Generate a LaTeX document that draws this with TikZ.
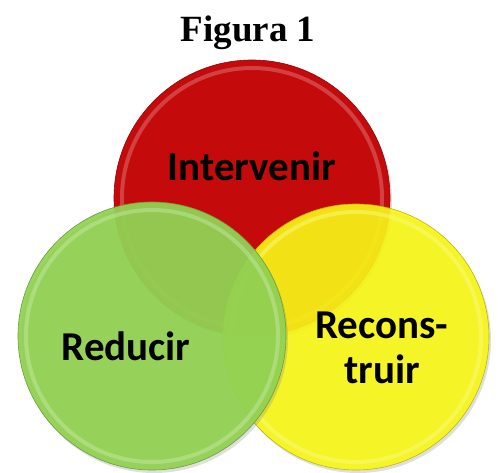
\documentclass[tikz,border=0pt]{standalone}
\usepackage{fontspec}
\setmainfont{Liberation Serif}
\newfontfamily\labelfont{Carlito}
\usetikzlibrary{shadows}
\definecolor{rojo}{RGB}{196,10,10}
\definecolor{verde}{RGB}{146,210,82}
\definecolor{amarillo}{RGB}{248,246,20}
\tikzset{disco/.style={circle, inner sep=0pt, draw=#1!75!black, line width=0.6pt,
  fill=#1, fill opacity=0.93,
  drop shadow={opacity=0.25, shadow xshift=2pt, shadow yshift=-3pt}}}
\tikzset{borde/.style={draw=#1!55!white, line width=4pt, draw opacity=0.5}}
\tikzset{etiqueta/.style={font=\labelfont\bfseries\fontsize{41}{45}\selectfont, anchor=base}}

\begin{document}
\begin{tikzpicture}[x=1pt, y=-1pt]
      \useasboundingbox (0, 0) rectangle (498, 472);

      \node [anchor=base, font=\bfseries\fontsize{37}{40}\selectfont] (titulo) at (248, 41) {Figura 1};

      \node [disco=rojo, fill opacity=1, minimum size=276pt] (rojo) at (252, 198) {};
      \draw [borde=rojo] (rojo.center) circle (130pt);

      \node [disco=amarillo, fill opacity=0.9, minimum size=266pt] (amarillo) at (356, 337) {};
      \draw [borde=amarillo] (amarillo.center) circle (125pt);

      \node [disco=verde, fill opacity=0.94, minimum size=268pt] (verde) at (152, 336) {};
      \draw [borde=verde] (verde.center) circle (126pt);

      \node [etiqueta] (intervenir) at (252, 180) {Intervenir};
      \node [etiqueta] (reducir) at (126, 360) {Reducir};
      \node [etiqueta] (recons) at (382, 338) {Recons-};
      \node [etiqueta] (truir) at (382, 383) {truir};
    \end{tikzpicture}
\end{document}
